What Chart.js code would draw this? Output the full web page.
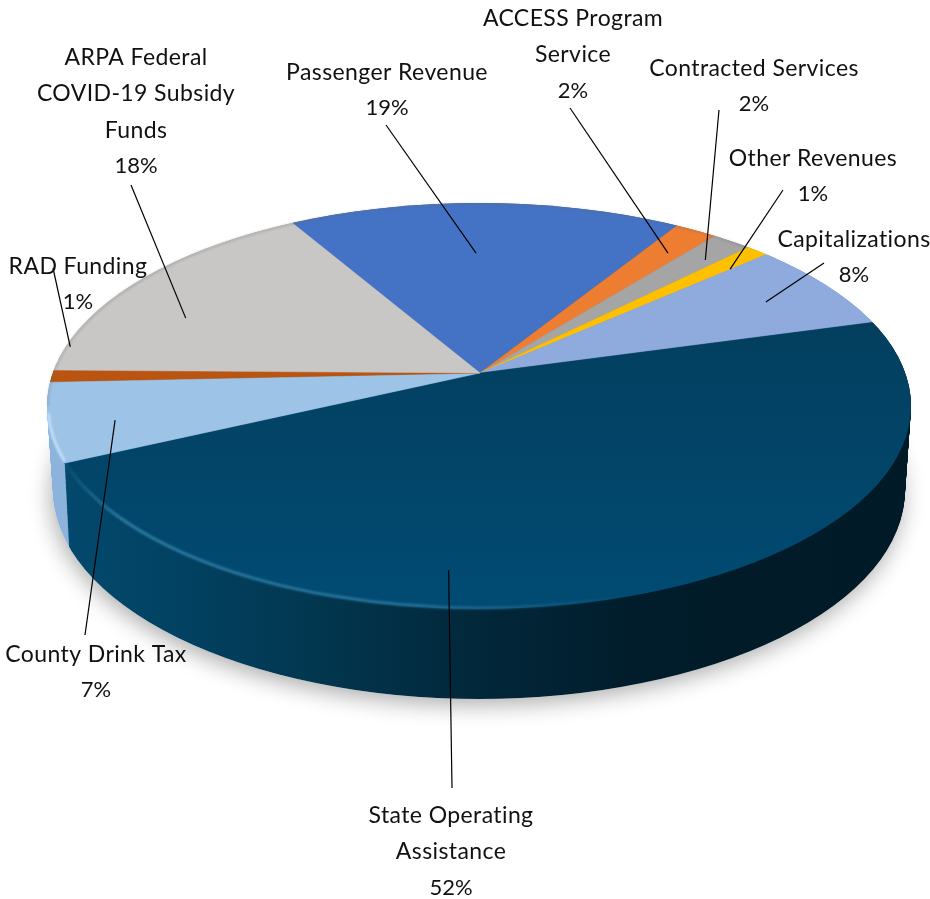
<!DOCTYPE html>
<html>
<head>
<meta charset="utf-8">
<script src="https://cdn.jsdelivr.net/npm/chart.js@4"></script>
<style>html,body{margin:0;padding:0;background:#fff}canvas{display:block}</style>
</head>
<body>
<canvas id="c" width="930" height="899"></canvas>
<script>
// Slice order runs clockwise from "Passenger Revenue".
const categories = ['Passenger Revenue','ACCESS Program Service','Contracted Services','Other Revenues','Capitalizations','State Operating Assistance','County Drink Tax','RAD Funding','ARPA Federal COVID-19 Subsidy Funds'];
// Printed percentages (the original labels add up to 110).
const printedPercents = ['19%','2%','2%','1%','8%','52%','7%','1%','18%'];
const sliceShares = [16.06,1.80,1.72,0.97,7.58,48.80,5.28,0.83,16.94];
const faceColors = ['#4472c4','#ed7d31','#a5a5a5','#ffc000','#8faadc','#00466c','#9dc3e6','#b95510','#c9c7c5'];
const wallColors = ['#2f5597','#ae5a21','#7b7b7b','#bf9000','#6f8bc0','#02283c','#8db4dc','#843c0c','#a0a0a0'];
const labelLines = [['Passenger Revenue'],['ACCESS Program','Service'],['Contracted Services'],['Other Revenues'],['Capitalizations'],['State Operating','Assistance'],['County Drink Tax'],['RAD Funding'],['ARPA Federal','COVID-19 Subsidy','Funds']];

// Layout: label centre x, first baseline y, leader start x/y, leader tip as (position across wedge, fraction of radius).
const labelLayout = [
  {x:387,y:79,from:[386,125],along:.472,r:.585},
  {x:573,y:25,from:[570,108],along:.63,r:.704},
  {x:754,y:75,from:[719,110],along:.68,r:.724},
  {x:813,y:165,from:[783,190],along:.97,r:.727},
  {x:854,y:246,from:[824,263],along:.51,r:.689},
  {x:451,y:822,from:[452,788],along:.637,r:.733},
  {x:96,y:661,from:[85,635],along:.43,r:.78},
  {x:78,y:273,from:[53,268],along:3.53,r:.863},
  {x:136,y:64,from:[131,185],along:.372,r:.669}
];
const LINE_HEIGHT = 36.3;
const FONT = '400 23px Lato, "Open Sans", sans-serif';
const PERCENT_FONT = '400 22px Lato, "Open Sans", sans-serif';
const APEX = {x:480,y:373};
const PROJ = {rx:480,up:205,down:270};       // wedge projection around the apex
const TOP_RIM = {x:479,y:406,rx:432,ry:203}; // outline of top face
const BASE_RIM = {x:479,y:490,rx:426,ry:209};// outline of bottom edge
const APEX_DROP = 84;
const STEPS = 90;

function ellipsePath(ctx,e){ctx.beginPath();ctx.ellipse(e.x,e.y,e.rx,e.ry,0,0,Math.PI*2);}
function lerpRim(t){const m=k=>TOP_RIM[k]+(BASE_RIM[k]-TOP_RIM[k])*t;return {x:m('x'),y:m('y'),rx:m('rx'),ry:m('ry')};}

const pie3d = {
  id:'pie3d',
  beforeDatasetsDraw(chart){
    const ctx = chart.ctx, arcs = chart.getDatasetMeta(0).data;
    const cx = arcs[0].x, cy = arcs[0].y, R = arcs[0].outerRadius;
    const sx = PROJ.rx/R;
    const localX = x => cx+(x-APEX.x)/sx;

    function drawLayer(t, optFor){
      const e = lerpRim(t), ay = APEX.y + APEX_DROP*t;
      ctx.save();
      ellipsePath(ctx,e); ctx.clip();
      [[PROJ.up,-2000,ay],[PROJ.down,ay,2000]].forEach(([ry,y0,y1])=>{
        ctx.save();
        ctx.beginPath(); ctx.rect(0,y0,930,y1-y0); ctx.clip();
        ctx.translate(APEX.x,ay); ctx.scale(sx,ry/R); ctx.translate(-cx,-cy);
        arcs.forEach((a,i)=>{
          const o = a.options, ov = Object.create(o);
          Object.assign(ov,optFor(i,ry/R,ay));
          a.options = ov; a.draw(ctx); a.options = o;
        });
        ctx.restore();
      });
      ctx.restore();
    }

    // soft ground shadow
    ctx.save();
    ctx.shadowColor='rgba(0,0,0,.32)'; ctx.shadowBlur=22; ctx.shadowOffsetY=6; ctx.shadowOffsetX=-2;
    ctx.fillStyle='#fff'; ellipsePath(ctx,BASE_RIM); ctx.fill();
    ctx.restore();

    // side wall
    const wallGrad = ctx.createLinearGradient(localX(60),0,localX(900),0);
    wallGrad.addColorStop(0,'#03496d'); wallGrad.addColorStop(.12,'#024364');
    wallGrad.addColorStop(.3,'#023750'); wallGrad.addColorStop(.47,'#02293d');
    wallGrad.addColorStop(.7,'#011c2a'); wallGrad.addColorStop(1,'#011a27');
    for(let s=STEPS;s>=0;s--){
      drawLayer(s/STEPS,i=>({backgroundColor:i===5?wallGrad:wallColors[i],borderWidth:0}));
    }

    // top face
    drawLayer(0,(i,scale,ay)=>{
      if(i!==5) return {};
      const ly = y => cy+(y-ay)/scale;
      const g = ctx.createLinearGradient(0,ly(330),0,ly(610));
      g.addColorStop(0,'#033f5f'); g.addColorStop(1,'#014b73');
      return {backgroundColor:g,borderColor:g};
    });

    // rim highlights
    const rim=(a0,a1,stroke,w)=>{ctx.save();ctx.beginPath();ctx.filter='blur(0.8px)';
      ctx.ellipse(TOP_RIM.x,TOP_RIM.y,TOP_RIM.rx-1,TOP_RIM.ry-1,0,a0*Math.PI/180,a1*Math.PI/180);
      ctx.strokeStyle=stroke;ctx.lineWidth=w;ctx.stroke();ctx.restore();};
    const hl=ctx.createLinearGradient(66,0,640,0);
    hl.addColorStop(0,'rgba(60,140,180,.15)');hl.addColorStop(.1,'rgba(60,140,180,.75)');
    hl.addColorStop(.6,'rgba(60,140,180,.6)');hl.addColorStop(1,'rgba(60,140,180,0)');
    rim(65,164,hl,3);
    rim(164,178,'rgba(200,230,255,.8)',3);
    rim(180,308,'rgba(110,110,110,.45)',1.2);

    // leaders and labels
    ctx.save();
    ctx.strokeStyle='#000';ctx.lineWidth=1.2;
    labelLayout.forEach((l,i)=>{
      const a=arcs[i], ang=a.startAngle+(a.endAngle-a.startAngle)*l.along;
      const ux=Math.cos(ang)*l.r, uy=Math.sin(ang)*l.r;
      const tx=APEX.x+ux*PROJ.rx, ty=APEX.y+uy*(uy<0?PROJ.up:PROJ.down);
      ctx.beginPath();ctx.moveTo(l.from[0],l.from[1]);ctx.lineTo(tx,ty);ctx.stroke();
    });
    ctx.fillStyle='#111';ctx.textAlign='center';ctx.textBaseline='alphabetic';
    labelLayout.forEach((l,i)=>{
      ctx.font=FONT;ctx.letterSpacing='0.4px';
      labelLines[i].forEach((s,k)=>ctx.fillText(s,l.x,l.y+1+k*LINE_HEIGHT));
      ctx.font=PERCENT_FONT;ctx.letterSpacing='0px';
      ctx.fillText(printedPercents[i],l.x,l.y+labelLines[i].length*LINE_HEIGHT);
    });
    ctx.restore();
    return false;
  }
};

new Chart(document.getElementById('c'),{
  type:'pie',
  data:{labels:categories,datasets:[{data:sliceShares,backgroundColor:faceColors,borderColor:faceColors,borderWidth:.6}]},
  options:{responsive:false,animation:false,rotation:-28.1,layout:{padding:0},
    plugins:{legend:{display:false},tooltip:{enabled:false}}},
  plugins:[pie3d]
});
</script>
</body>
</html>
